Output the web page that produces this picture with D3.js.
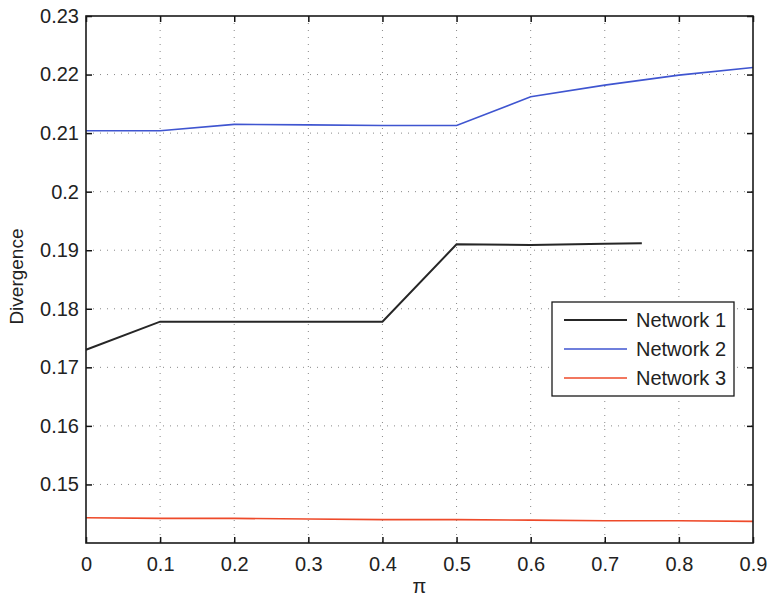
<!DOCTYPE html>
<html>
<head>
<meta charset="utf-8">
<script src="https://cdn.jsdelivr.net/npm/d3@7"></script>
<style>
body { margin: 0; background: #fff; }
svg { font-family: "Liberation Sans", Arial, sans-serif; }
</style>
</head>
<body>
<div id="chart"></div>
<script>
// values
var piValues = [0, 0.1, 0.2, 0.3, 0.4, 0.5, 0.6, 0.7, 0.8, 0.9];
var net1Pi = [0, 0.1, 0.2, 0.3, 0.4, 0.5, 0.6, 0.7, 0.75];
var net1 = [0.1730, 0.1778, 0.1778, 0.1778, 0.1778, 0.1910, 0.1909, 0.1911, 0.1912];
var net2 = [0.2104, 0.2104, 0.2115, 0.2114, 0.2113, 0.2113, 0.2162, 0.2182, 0.2199, 0.2212];
var net3 = [0.1443, 0.1442, 0.1442, 0.1441, 0.1440, 0.1440, 0.1439, 0.1438, 0.1438, 0.1437];
var seriesNames = ["Network 1", "Network 2", "Network 3"];
var seriesColors = ["#262626", "#3f55d0", "#ee4a2a"];
var xTicks = [0, 0.1, 0.2, 0.3, 0.4, 0.5, 0.6, 0.7, 0.8, 0.9];
var yTicks = [0.15, 0.16, 0.17, 0.18, 0.19, 0.2, 0.21, 0.22, 0.23];

var width = 772, height = 601;
var margin = {left: 86, top: 16, right: 19, bottom: 58};
var plotW = width - margin.left - margin.right;
var plotH = height - margin.top - margin.bottom;

var svg = d3.select("#chart").append("svg")
	.attr("width", width)
	.attr("height", height);

var x = d3.scaleLinear().domain([0, 0.9]).range([0, plotW]);
var y = d3.scaleLinear().domain([0.14, 0.23]).range([plotH, 0]);

var g = svg.append("g").attr("transform", "translate(" + margin.left + "," + margin.top + ")");

// dotted grid
g.selectAll(".vgrid").data(xTicks.slice(1, -1)).enter().append("line")
	.attr("x1", function (d) { return x(d); })
	.attr("x2", function (d) { return x(d); })
	.attr("y1", 0).attr("y2", plotH)
	.style("stroke", "#888").style("stroke-width", 1).style("stroke-dasharray", "1,6");
g.selectAll(".hgrid").data(yTicks.slice(0, -1)).enter().append("line")
	.attr("y1", function (d) { return y(d); })
	.attr("y2", function (d) { return y(d); })
	.attr("x1", 0).attr("x2", plotW)
	.style("stroke", "#888").style("stroke-width", 1).style("stroke-dasharray", "1,6");

// lines
var line = d3.line()
	.x(function (d) { return x(d[0]); })
	.y(function (d) { return y(d[1]); });

var seriesData = [
	d3.zip(net1Pi, net1),
	d3.zip(piValues, net2),
	d3.zip(piValues, net3)
];

g.selectAll(".series").data(seriesData).enter().append("path")
	.attr("d", line)
	.style("fill", "none")
	.style("stroke", function (d, i) { return seriesColors[i]; })
	.style("stroke-width", function (d, i) { return i == 0 ? 2 : 1.6; });

// axes (matlab box, ticks inward)
var tickLen = 6;
var xAxis = d3.axisBottom(x).tickValues(xTicks).tickSize(-tickLen).tickPadding(14)
	.tickFormat(function (d) { return d == 0 ? "0" : d3.format(".1f")(d); });
var yAxis = d3.axisLeft(y).tickValues(yTicks).tickSize(-tickLen).tickPadding(7)
	.tickFormat(function (d) { return d3.format("")(+d.toFixed(2)); });

var gx = g.append("g").attr("transform", "translate(0," + plotH + ")").call(xAxis);
var gy = g.append("g").call(yAxis);
g.append("g").call(d3.axisTop(x).tickValues(xTicks).tickSize(-tickLen).tickFormat(""));
g.append("g").attr("transform", "translate(" + plotW + ",0)")
	.call(d3.axisRight(y).tickValues(yTicks).tickSize(-tickLen).tickFormat(""));

g.selectAll(".domain").remove();
g.selectAll(".tick line").style("stroke", "#111").style("stroke-width", 1.5);
gx.selectAll("text").style("font-size", "20px").style("fill", "#222");
gy.selectAll("text").style("font-size", "20px").style("fill", "#222");

g.append("rect")
	.attr("width", plotW).attr("height", plotH)
	.style("fill", "none").style("stroke", "#1a1a1a").style("stroke-width", 1.6);

// axis labels
svg.append("text")
	.attr("x", margin.left + x(0.45)).attr("y", 593)
	.attr("text-anchor", "middle")
	.style("font-size", "20px").style("fill", "#222")
	.text("π");
svg.append("text")
	.attr("transform", "translate(23," + (margin.top + y(0.1855)) + ") rotate(-90)")
	.attr("text-anchor", "middle")
	.style("font-size", "19px").style("fill", "#222")
	.text("Divergence");

// legend
var legend = svg.append("g").attr("transform", "translate(552,302)");
legend.append("rect")
	.attr("width", 182).attr("height", 94)
	.style("fill", "#fff").style("stroke", "#1a1a1a").style("stroke-width", 1.3);
var items = legend.selectAll(".item").data(seriesNames).enter().append("g")
	.attr("transform", function (d, i) { return "translate(0," + (18 + i * 29) + ")"; });
items.append("line")
	.attr("x1", 12).attr("x2", 75)
	.style("stroke", function (d, i) { return seriesColors[i]; })
	.style("stroke-width", function (d, i) { return i == 0 ? 2 : 1.6; });
items.append("text")
	.attr("x", 84).attr("y", 7)
	.style("font-size", "20px").style("fill", "#222")
	.text(function (d) { return d; });
</script>
</body>
</html>
